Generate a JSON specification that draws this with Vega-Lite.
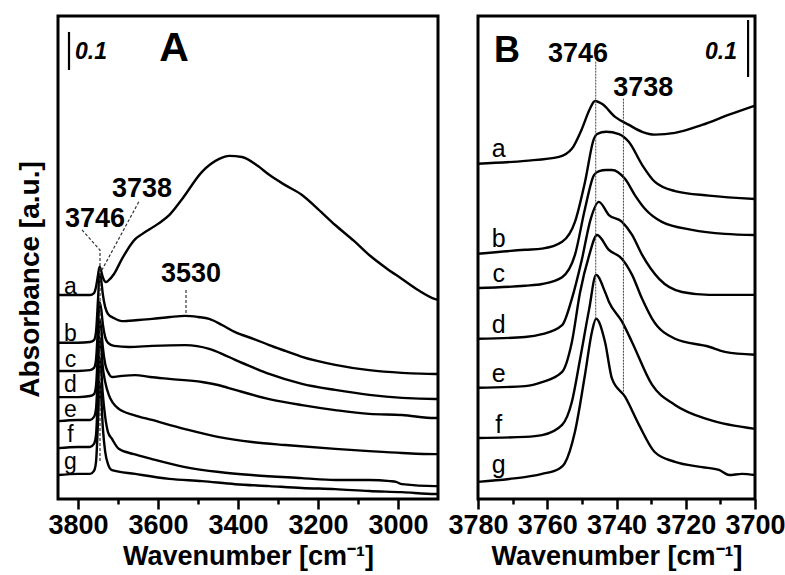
{
  "$schema": "https://vega.github.io/schema/vega-lite/v6.json",
  "padding": {"left": 14, "top": 14, "right": 2, "bottom": 2},
  "background": "white",
  "config": {
    "view": {"stroke": "black", "strokeWidth": 3},
    "font": "Liberation Sans",
    "axis": {"labelFont": "Liberation Sans", "titleFont": "Liberation Sans", "labelFontWeight": "bold", "titleFontWeight": "bold", "labelFontSize": 27, "titleFontSize": 27, "labelColor": "black", "titleColor": "black", "tickColor": "black", "tickWidth": 2.5, "grid": false, "domain": false}
  },
  "datasets": {
    "specA": [
      {"s":"a","wn":3850,"abs":0.537},{"s":"a","wn":3800,"abs":0.537},{"s":"a","wn":3770,"abs":0.537},{"s":"a","wn":3760,"abs":0.542},{"s":"a","wn":3755,"abs":0.558},{"s":"a","wn":3750,"abs":0.589},{"s":"a","wn":3746,"abs":0.611},{"s":"a","wn":3742,"abs":0.600},{"s":"a","wn":3738,"abs":0.584},{"s":"a","wn":3730,"abs":0.571},{"s":"a","wn":3725,"abs":0.574},{"s":"a","wn":3710,"abs":0.592},{"s":"a","wn":3690,"abs":0.632},{"s":"a","wn":3657,"abs":0.684},{"s":"a","wn":3640,"abs":0.697},{"s":"a","wn":3600,"abs":0.724},{"s":"a","wn":3572,"abs":0.747},{"s":"a","wn":3540,"abs":0.789},{"s":"a","wn":3490,"abs":0.861},{"s":"a","wn":3447,"abs":0.895},{"s":"a","wn":3422,"abs":0.903},{"s":"a","wn":3390,"abs":0.900},{"s":"a","wn":3350,"abs":0.876},{"s":"a","wn":3322,"abs":0.853},{"s":"a","wn":3282,"abs":0.826},{"s":"a","wn":3240,"abs":0.800},{"s":"a","wn":3200,"abs":0.763},{"s":"a","wn":3157,"abs":0.721},{"s":"a","wn":3110,"abs":0.679},{"s":"a","wn":3072,"abs":0.642},{"s":"a","wn":3030,"abs":0.608},{"s":"a","wn":2990,"abs":0.579},{"s":"a","wn":2950,"abs":0.550},{"s":"a","wn":2907,"abs":0.526},{"s":"a","wn":2900,"abs":0.524},
      {"s":"b","wn":3850,"abs":0.411},{"s":"b","wn":3800,"abs":0.411},{"s":"b","wn":3770,"abs":0.413},{"s":"b","wn":3760,"abs":0.418},{"s":"b","wn":3755,"abs":0.439},{"s":"b","wn":3750,"abs":0.524},{"s":"b","wn":3746,"abs":0.592},{"s":"b","wn":3742,"abs":0.576},{"s":"b","wn":3738,"abs":0.539},{"s":"b","wn":3732,"abs":0.505},{"s":"b","wn":3725,"abs":0.487},{"s":"b","wn":3710,"abs":0.476},{"s":"b","wn":3690,"abs":0.468},{"s":"b","wn":3650,"abs":0.471},{"s":"b","wn":3615,"abs":0.474},{"s":"b","wn":3570,"abs":0.479},{"s":"b","wn":3532,"abs":0.482},{"s":"b","wn":3500,"abs":0.479},{"s":"b","wn":3472,"abs":0.474},{"s":"b","wn":3440,"abs":0.458},{"s":"b","wn":3407,"abs":0.439},{"s":"b","wn":3360,"abs":0.421},{"s":"b","wn":3322,"abs":0.405},{"s":"b","wn":3280,"abs":0.389},{"s":"b","wn":3240,"abs":0.374},{"s":"b","wn":3157,"abs":0.353},{"s":"b","wn":3072,"abs":0.339},{"s":"b","wn":2990,"abs":0.332},{"s":"b","wn":2907,"abs":0.329},{"s":"b","wn":2900,"abs":0.329},
      {"s":"c","wn":3850,"abs":0.337},{"s":"c","wn":3800,"abs":0.337},{"s":"c","wn":3770,"abs":0.339},{"s":"c","wn":3760,"abs":0.345},{"s":"c","wn":3755,"abs":0.366},{"s":"c","wn":3750,"abs":0.453},{"s":"c","wn":3746,"abs":0.518},{"s":"c","wn":3742,"abs":0.500},{"s":"c","wn":3738,"abs":0.461},{"s":"c","wn":3732,"abs":0.426},{"s":"c","wn":3725,"abs":0.411},{"s":"c","wn":3710,"abs":0.403},{"s":"c","wn":3672,"abs":0.400},{"s":"c","wn":3615,"abs":0.403},{"s":"c","wn":3532,"abs":0.405},{"s":"c","wn":3472,"abs":0.395},{"s":"c","wn":3440,"abs":0.382},{"s":"c","wn":3407,"abs":0.366},{"s":"c","wn":3360,"abs":0.345},{"s":"c","wn":3322,"abs":0.329},{"s":"c","wn":3240,"abs":0.303},{"s":"c","wn":3157,"abs":0.287},{"s":"c","wn":3072,"abs":0.274},{"s":"c","wn":2990,"abs":0.266},{"s":"c","wn":2907,"abs":0.263},{"s":"c","wn":2900,"abs":0.263},
      {"s":"d","wn":3850,"abs":0.268},{"s":"d","wn":3800,"abs":0.268},{"s":"d","wn":3770,"abs":0.271},{"s":"d","wn":3760,"abs":0.276},{"s":"d","wn":3755,"abs":0.297},{"s":"d","wn":3750,"abs":0.392},{"s":"d","wn":3746,"abs":0.471},{"s":"d","wn":3742,"abs":0.450},{"s":"d","wn":3738,"abs":0.400},{"s":"d","wn":3732,"abs":0.355},{"s":"d","wn":3725,"abs":0.334},{"s":"d","wn":3715,"abs":0.321},{"s":"d","wn":3690,"abs":0.324},{"s":"d","wn":3657,"abs":0.326},{"s":"d","wn":3620,"abs":0.321},{"s":"d","wn":3572,"abs":0.316},{"s":"d","wn":3490,"abs":0.308},{"s":"d","wn":3450,"abs":0.300},{"s":"d","wn":3407,"abs":0.287},{"s":"d","wn":3322,"abs":0.263},{"s":"d","wn":3240,"abs":0.247},{"s":"d","wn":3157,"abs":0.234},{"s":"d","wn":3072,"abs":0.224},{"s":"d","wn":2990,"abs":0.221},{"s":"d","wn":2907,"abs":0.213},{"s":"d","wn":2900,"abs":0.213},
      {"s":"e","wn":3850,"abs":0.205},{"s":"e","wn":3800,"abs":0.208},{"s":"e","wn":3770,"abs":0.208},{"s":"e","wn":3760,"abs":0.216},{"s":"e","wn":3755,"abs":0.237},{"s":"e","wn":3750,"abs":0.339},{"s":"e","wn":3746,"abs":0.426},{"s":"e","wn":3742,"abs":0.400},{"s":"e","wn":3738,"abs":0.347},{"s":"e","wn":3732,"abs":0.308},{"s":"e","wn":3723,"abs":0.274},{"s":"e","wn":3698,"abs":0.237},{"s":"e","wn":3660,"abs":0.221},{"s":"e","wn":3615,"abs":0.208},{"s":"e","wn":3532,"abs":0.184},{"s":"e","wn":3447,"abs":0.163},{"s":"e","wn":3365,"abs":0.150},{"s":"e","wn":3282,"abs":0.142},{"s":"e","wn":3157,"abs":0.132},{"s":"e","wn":3072,"abs":0.126},{"s":"e","wn":2990,"abs":0.121},{"s":"e","wn":2907,"abs":0.118},{"s":"e","wn":2900,"abs":0.118},
      {"s":"f","wn":3850,"abs":0.134},{"s":"f","wn":3800,"abs":0.137},{"s":"f","wn":3770,"abs":0.137},{"s":"f","wn":3760,"abs":0.145},{"s":"f","wn":3755,"abs":0.168},{"s":"f","wn":3750,"abs":0.276},{"s":"f","wn":3746,"abs":0.374},{"s":"f","wn":3742,"abs":0.339},{"s":"f","wn":3738,"abs":0.276},{"s":"f","wn":3732,"abs":0.216},{"s":"f","wn":3725,"abs":0.176},{"s":"f","wn":3715,"abs":0.158},{"s":"f","wn":3698,"abs":0.132},{"s":"f","wn":3660,"abs":0.118},{"s":"f","wn":3615,"abs":0.105},{"s":"f","wn":3532,"abs":0.084},{"s":"f","wn":3447,"abs":0.071},{"s":"f","wn":3365,"abs":0.063},{"s":"f","wn":3240,"abs":0.055},{"s":"f","wn":3157,"abs":0.050},{"s":"f","wn":3072,"abs":0.050},{"s":"f","wn":3020,"abs":0.047},{"s":"f","wn":3005,"abs":0.045},{"s":"f","wn":2990,"abs":0.039},{"s":"f","wn":2907,"abs":0.034},{"s":"f","wn":2900,"abs":0.034},
      {"s":"g","wn":3850,"abs":0.063},{"s":"g","wn":3800,"abs":0.066},{"s":"g","wn":3770,"abs":0.066},{"s":"g","wn":3760,"abs":0.074},{"s":"g","wn":3755,"abs":0.097},{"s":"g","wn":3750,"abs":0.203},{"s":"g","wn":3746,"abs":0.308},{"s":"g","wn":3742,"abs":0.268},{"s":"g","wn":3738,"abs":0.189},{"s":"g","wn":3732,"abs":0.124},{"s":"g","wn":3725,"abs":0.092},{"s":"g","wn":3715,"abs":0.076},{"s":"g","wn":3657,"abs":0.066},{"s":"g","wn":3572,"abs":0.053},{"s":"g","wn":3490,"abs":0.047},{"s":"g","wn":3407,"abs":0.039},{"s":"g","wn":3322,"abs":0.034},{"s":"g","wn":3240,"abs":0.029},{"s":"g","wn":3157,"abs":0.026},{"s":"g","wn":3072,"abs":0.021},{"s":"g","wn":2990,"abs":0.018},{"s":"g","wn":2907,"abs":0.013},{"s":"g","wn":2900,"abs":0.013}
    ],
    "specB": [
      {"s":"a","wn":3780,"abs":0.588},{"s":"a","wn":3766.4,"abs":0.593},{"s":"a","wn":3756.6,"abs":0.600},{"s":"a","wn":3752.9,"abs":0.614},{"s":"a","wn":3750,"abs":0.649},{"s":"a","wn":3747.7,"abs":0.684},{"s":"a","wn":3746.2,"abs":0.698},{"s":"a","wn":3744.2,"abs":0.693},{"s":"a","wn":3740.4,"abs":0.670},{"s":"a","wn":3736.4,"abs":0.656},{"s":"a","wn":3732.6,"abs":0.644},{"s":"a","wn":3728.9,"abs":0.639},{"s":"a","wn":3723.1,"abs":0.642},{"s":"a","wn":3715.3,"abs":0.656},{"s":"a","wn":3707.5,"abs":0.674},{"s":"a","wn":3700,"abs":0.690},
      {"s":"b","wn":3780,"abs":0.430},{"s":"b","wn":3766.4,"abs":0.437},{"s":"b","wn":3761.5,"abs":0.439},{"s":"b","wn":3755.7,"abs":0.451},{"s":"b","wn":3752,"abs":0.486},{"s":"b","wn":3749.1,"abs":0.556},{"s":"b","wn":3746.5,"abs":0.632},{"s":"b","wn":3745.6,"abs":0.640},{"s":"b","wn":3743,"abs":0.644},{"s":"b","wn":3739.3,"abs":0.640},{"s":"b","wn":3736.4,"abs":0.626},{"s":"b","wn":3732.6,"abs":0.586},{"s":"b","wn":3728.9,"abs":0.556},{"s":"b","wn":3723.1,"abs":0.540},{"s":"b","wn":3713.3,"abs":0.532},{"s":"b","wn":3700,"abs":0.526},
      {"s":"c","wn":3780,"abs":0.370},{"s":"c","wn":3766.4,"abs":0.374},{"s":"c","wn":3761.5,"abs":0.377},{"s":"c","wn":3755.7,"abs":0.389},{"s":"c","wn":3752,"abs":0.428},{"s":"c","wn":3749.1,"abs":0.509},{"s":"c","wn":3746.5,"abs":0.568},{"s":"c","wn":3745,"abs":0.575},{"s":"c","wn":3743,"abs":0.577},{"s":"c","wn":3741.3,"abs":0.577},{"s":"c","wn":3737.5,"abs":0.561},{"s":"c","wn":3734.7,"abs":0.533},{"s":"c","wn":3731.8,"abs":0.509},{"s":"c","wn":3726.9,"abs":0.486},{"s":"c","wn":3718.2,"abs":0.472},{"s":"c","wn":3708.7,"abs":0.465},{"s":"c","wn":3700,"abs":0.463},
      {"s":"d","wn":3780,"abs":0.281},{"s":"d","wn":3766.4,"abs":0.284},{"s":"d","wn":3761.5,"abs":0.289},{"s":"d","wn":3755.7,"abs":0.305},{"s":"d","wn":3752.9,"abs":0.351},{"s":"d","wn":3750,"abs":0.420},{"s":"d","wn":3747.5,"abs":0.490},{"s":"d","wn":3745.1,"abs":0.521},{"s":"d","wn":3742.2,"abs":0.498},{"s":"d","wn":3738.4,"abs":0.486},{"s":"d","wn":3735.5,"abs":0.463},{"s":"d","wn":3732.6,"abs":0.428},{"s":"d","wn":3727.7,"abs":0.386},{"s":"d","wn":3721.1,"abs":0.363},{"s":"d","wn":3713.3,"abs":0.358},{"s":"d","wn":3700,"abs":0.358},
      {"s":"e","wn":3780,"abs":0.195},{"s":"e","wn":3766.4,"abs":0.198},{"s":"e","wn":3761.5,"abs":0.205},{"s":"e","wn":3755.7,"abs":0.223},{"s":"e","wn":3752.9,"abs":0.275},{"s":"e","wn":3750.5,"abs":0.363},{"s":"e","wn":3748,"abs":0.425},{"s":"e","wn":3745.6,"abs":0.463},{"s":"e","wn":3742.2,"abs":0.437},{"s":"e","wn":3738.4,"abs":0.421},{"s":"e","wn":3735.5,"abs":0.393},{"s":"e","wn":3732.6,"abs":0.351},{"s":"e","wn":3729.7,"abs":0.316},{"s":"e","wn":3723.1,"abs":0.281},{"s":"e","wn":3713.3,"abs":0.267},{"s":"e","wn":3708.7,"abs":0.258},{"s":"e","wn":3700,"abs":0.253},
      {"s":"f","wn":3780,"abs":0.107},{"s":"f","wn":3766.4,"abs":0.109},{"s":"f","wn":3761.5,"abs":0.112},{"s":"f","wn":3755.7,"abs":0.130},{"s":"f","wn":3752.9,"abs":0.170},{"s":"f","wn":3750.5,"abs":0.246},{"s":"f","wn":3747.9,"abs":0.333},{"s":"f","wn":3745.9,"abs":0.393},{"s":"f","wn":3743.3,"abs":0.363},{"s":"f","wn":3742.2,"abs":0.346},{"s":"f","wn":3738.4,"abs":0.311},{"s":"f","wn":3735.5,"abs":0.275},{"s":"f","wn":3729.7,"abs":0.200},{"s":"f","wn":3723.1,"abs":0.165},{"s":"f","wn":3713.3,"abs":0.139},{"s":"f","wn":3700,"abs":0.123},
      {"s":"g","wn":3780,"abs":0.030},{"s":"g","wn":3771,"abs":0.035},{"s":"g","wn":3761.5,"abs":0.044},{"s":"g","wn":3756.6,"abs":0.053},{"s":"g","wn":3755,"abs":0.062},{"s":"g","wn":3752,"abs":0.118},{"s":"g","wn":3749.1,"abs":0.218},{"s":"g","wn":3747.1,"abs":0.293},{"s":"g","wn":3745.9,"abs":0.316},{"s":"g","wn":3743.3,"abs":0.275},{"s":"g","wn":3741.3,"abs":0.211},{"s":"g","wn":3737.5,"abs":0.179},{"s":"g","wn":3733.5,"abs":0.130},{"s":"g","wn":3728.9,"abs":0.082},{"s":"g","wn":3723.1,"abs":0.065},{"s":"g","wn":3715.3,"abs":0.056},{"s":"g","wn":3710.4,"abs":0.051},{"s":"g","wn":3707.5,"abs":0.042},{"s":"g","wn":3703.8,"abs":0.044},{"s":"g","wn":3700,"abs":0.042}
    ],
    "letA": [
      {"t":"a","wn":3819,"abs":0.558},{"t":"b","wn":3819,"abs":0.434},{"t":"c","wn":3819,"abs":0.366},{"t":"d","wn":3819,"abs":0.300},{"t":"e","wn":3819,"abs":0.234},{"t":"f","wn":3819,"abs":0.168},{"t":"g","wn":3819,"abs":0.097}
    ],
    "letB": [
      {"t":"a","wn":3774,"abs":0.614},{"t":"b","wn":3774,"abs":0.456},{"t":"c","wn":3774,"abs":0.395},{"t":"d","wn":3774,"abs":0.305},{"t":"e","wn":3774,"abs":0.219},{"t":"f","wn":3774,"abs":0.130},{"t":"g","wn":3774,"abs":0.060}
    ],
    "peakA": [
      {"t":"3746","wn":3757.5,"abs":0.737},{"t":"3738","wn":3640,"abs":0.816},{"t":"3530","wn":3517.5,"abs":0.592}
    ],
    "peakB": [
      {"t":"3746","wn":3751.1,"abs":0.781},{"t":"3738","wn":3732.3,"abs":0.721}
    ],
    "leadA": [
      {"id":"L1","o":1,"wn":3790,"abs":0.708},{"id":"L1","o":2,"wn":3745,"abs":0.655},{"id":"L1","o":3,"wn":3745,"abs":0.10},
      {"id":"L2","o":1,"wn":3648,"abs":0.782},{"id":"L2","o":2,"wn":3740,"abs":0.603},
      {"id":"L3","o":1,"wn":3530,"abs":0.550},{"id":"L3","o":2,"wn":3530,"abs":0.487}
    ],
    "leadB": [
      {"wn":3746,"abs":0.767,"abs2":0.316},{"wn":3738,"abs":0.702,"abs2":0.188}
    ],
    "barA": [{"wn":3822.5,"abs":1.129,"abs2":1.229}],
    "barB": [{"wn":3702,"abs":0.740,"abs2":0.840}],
    "panA": [{"t":"A","wn":3560,"abs":1.184}],
    "panB": [{"t":"B","wn":3771.6,"abs":0.786}],
    "sclA": [{"t":"0.1","wn":3767.5,"abs":1.176}],
    "sclB": [{"t":"0.1","wn":3709.8,"abs":0.784}]
  },
  "spacing": 1,
  "hconcat": [
    {
      "width": 380,
      "height": 483,
      "encoding": {
        "x": {"field": "wn", "type": "quantitative", "scale": {"domain": [2900, 3850], "reverse": true, "nice": false, "zero": false},
          "axis": {"title": "Wavenumber [cm⁻¹]", "values": [3800, 3700, 3600, 3500, 3400, 3300, 3200, 3100, 3000], "format": "d", "labelExpr": "datum.value % 200 === 0 ? datum.label : ''", "tickSize": {"condition": {"test": "datum.value % 200 === 0", "value": 10}, "value": 5}, "labelFlush": false, "labelOverlap": false, "labelFontSize": 27, "labelFontWeight": "bold", "labelPadding": 3, "titleFontSize": 27, "titlePadding": 5}},
        "y": {"field": "abs", "type": "quantitative", "scale": {"domain": [0, 1.271], "nice": false, "zero": false},
          "axis": {"title": "Absorbance [a.u.]", "labels": false, "ticks": false, "titleFontSize": 28, "titlePadding": 14, "titleY": 263}}
      },
      "layer": [
        {"data": {"name": "specA"}, "mark": {"type": "line", "color": "black", "strokeWidth": 2.4, "interpolate": "monotone"},
          "encoding": {"detail": {"field": "s"}, "order": {"field": "wn", "sort": "descending"}}},
        {"data": {"name": "leadA"}, "mark": {"type": "line", "color": "#333333", "strokeWidth": 1.2, "strokeDash": [3, 2]},
          "encoding": {"detail": {"field": "id"}, "order": {"field": "o"}}},
        {"data": {"name": "barA"}, "mark": {"type": "rule", "color": "black", "strokeWidth": 2.2}, "encoding": {"y2": {"field": "abs2"}}},
        {"data": {"name": "letA"}, "mark": {"type": "text", "fontSize": 23, "align": "center", "baseline": "middle", "color": "black"}, "encoding": {"text": {"field": "t"}}},
        {"data": {"name": "peakA"}, "mark": {"type": "text", "fontSize": 27, "fontWeight": "bold", "align": "center", "baseline": "middle", "color": "black"}, "encoding": {"text": {"field": "t"}}},
        {"data": {"name": "panA"}, "mark": {"type": "text", "fontSize": 41, "fontWeight": "bold", "align": "center", "baseline": "middle", "color": "black"}, "encoding": {"text": {"field": "t"}}},
        {"data": {"name": "sclA"}, "mark": {"type": "text", "fontSize": 23, "fontWeight": "bold", "fontStyle": "italic", "align": "center", "baseline": "middle", "color": "black"}, "encoding": {"text": {"field": "t"}}}
      ]
    },
    {
      "width": 277,
      "height": 483,
      "encoding": {
        "x": {"field": "wn", "type": "quantitative", "scale": {"domain": [3700, 3780], "reverse": true, "nice": false, "zero": false},
          "axis": {"title": "Wavenumber [cm⁻¹]", "values": [3780, 3770, 3760, 3750, 3740, 3730, 3720, 3710, 3700], "format": "d", "labelExpr": "datum.value % 20 === 0 ? datum.label : ''", "tickSize": {"condition": {"test": "datum.value % 20 === 0", "value": 10}, "value": 5}, "labelFlush": false, "labelOverlap": false, "labelFontSize": 27, "labelFontWeight": "bold", "labelPadding": 3, "titleFontSize": 27, "titlePadding": 5}},
        "y": {"field": "abs", "type": "quantitative", "scale": {"domain": [0, 0.847], "nice": false, "zero": false}, "axis": null}
      },
      "layer": [
        {"data": {"name": "specB"}, "mark": {"type": "line", "color": "black", "strokeWidth": 2.4, "interpolate": "monotone"},
          "encoding": {"detail": {"field": "s"}, "order": {"field": "wn", "sort": "descending"}}},
        {"data": {"name": "leadB"}, "mark": {"type": "rule", "color": "#444444", "strokeWidth": 1, "strokeDash": [2, 1]}, "encoding": {"y2": {"field": "abs2"}}},
        {"data": {"name": "barB"}, "mark": {"type": "rule", "color": "black", "strokeWidth": 2.2}, "encoding": {"y2": {"field": "abs2"}}},
        {"data": {"name": "letB"}, "mark": {"type": "text", "fontSize": 25, "align": "center", "baseline": "middle", "color": "black"}, "encoding": {"text": {"field": "t"}}},
        {"data": {"name": "peakB"}, "mark": {"type": "text", "fontSize": 27, "fontWeight": "bold", "align": "center", "baseline": "middle", "color": "black"}, "encoding": {"text": {"field": "t"}}},
        {"data": {"name": "panB"}, "mark": {"type": "text", "fontSize": 36, "fontWeight": "bold", "align": "center", "baseline": "middle", "color": "black"}, "encoding": {"text": {"field": "t"}}},
        {"data": {"name": "sclB"}, "mark": {"type": "text", "fontSize": 23, "fontWeight": "bold", "fontStyle": "italic", "align": "center", "baseline": "middle", "color": "black"}, "encoding": {"text": {"field": "t"}}}
      ]
    }
  ]
}
